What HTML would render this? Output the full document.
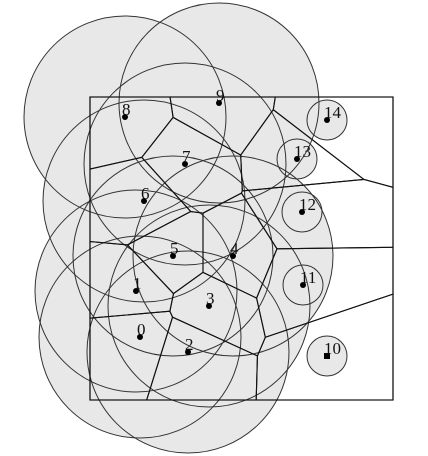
<!DOCTYPE html>
<html><head><meta charset="utf-8"><style>
html,body{margin:0;padding:0;background:#fff;}
svg{display:block;}
text{font-family:"Liberation Serif",serif;font-size:17px;fill:#111;}
</style></head><body>
<svg id="chart" width="428" height="456" viewBox="0 0 428 456">
<g id="fills"></g><g id="strokes"></g>
<rect x="90" y="97" width="303" height="303" fill="none" stroke="#111" stroke-width="1.2"></rect>
<g id="cells"></g><g id="pts"></g>
</svg>
<script>
const labels=["0","1","2","3","4","5","6","7","8","9","10","11","12","13","14"];
const xs=[140,136,188,209,233,173,144,185,125,219,327,303,302,297,327];
const ys=[337,291,352,306,256,256,201,164,117,103,356,285,212,159,120];
const radii=[101,101,101,101,100,100,101,101,101,100,20,20,20,20,20];
const box=[90,97,393,400];
const NS="http://www.w3.org/2000/svg";
const fills=document.getElementById('fills'),strokes=document.getElementById('strokes'),cells=document.getElementById('cells'),pts=document.getElementById('pts');
function mk(t,a){const e=document.createElementNS(NS,t);for(const k in a)e.setAttribute(k,a[k]);return e;}
for(let i=0;i<xs.length;i++){
  const f=mk('circle',{cx:xs[i],cy:ys[i],r:radii[i],fill:'#e8e8e8',stroke:'none'});
  
  
  fills.appendChild(f);
  const s=mk('circle',{cx:xs[i],cy:ys[i],r:radii[i],fill:'none',stroke:'#333','stroke-width':1});
  
  
  strokes.appendChild(s);
}
function clip(poly,px,py,qx,qy){
  const mx=(px+qx)/2,my=(py+qy)/2,dx=qx-px,dy=qy-py,out=[];
  const f=p=>(p[0]-mx)*dx+(p[1]-my)*dy;
  for(let k=0;k<poly.length;k++){
    const a=poly[k],b=poly[(k+1)%poly.length],fa=f(a),fb=f(b);
    if(fa<=0)out.push(a);
    if((fa<0&&fb>0)||(fa>0&&fb<0)){const t=fa/(fa-fb);out.push([a[0]+t*(b[0]-a[0]),a[1]+t*(b[1]-a[1])]);}
  }
  return out;
}
for(let i=0;i<xs.length;i++){
  let poly=[[box[0],box[1]],[box[2],box[1]],[box[2],box[3]],[box[0],box[3]]];
  for(let j=0;j<xs.length;j++){if(j!==i)poly=clip(poly,xs[i],ys[i],xs[j],ys[j]);}
  const c=mk('polygon',{points:poly.map(p=>p.join(',')).join(' '),fill:'none',stroke:'#111','stroke-width':1.1});
  
  
  cells.appendChild(c);
}
for(let i=0;i<xs.length;i++){
  let d;
  if(labels[i]==="10"){d=mk('rect',{x:xs[i]-3,y:ys[i]-3,width:6,height:6,fill:'#000'});}
  else d=mk('circle',{cx:xs[i],cy:ys[i],r:3,fill:'#000'});
  
  
  pts.appendChild(d);
  const t=mk('text',{x:xs[i]-3,y:ys[i]-2});
  t.textContent=labels[i];
  
  
  pts.appendChild(t);
}
</script>
</body></html>
